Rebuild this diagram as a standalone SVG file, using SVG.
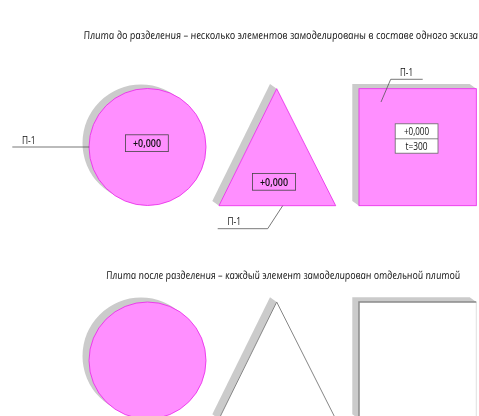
<svg xmlns="http://www.w3.org/2000/svg" width="479" height="416" viewBox="0 0 479 416">
<style>
.shadow{fill:#cbcbcb}
.slab{fill:#ff8fff;stroke:#e824e8;stroke-width:.8}
.empty{fill:#fff;stroke:#858585;stroke-width:1}
.edge{fill:none;stroke:#8a8a8a;stroke-width:1.5}
.faint{fill:none;stroke:#d8d8d8;stroke-width:.8}
.lead{fill:none;stroke:#555;stroke-width:.8}
.box{fill:none;stroke:#444;stroke-width:.8}
.boxw{fill:#fff;stroke:#666;stroke-width:.8}
text{font-family:"Open Sans","Liberation Sans",sans-serif;fill:#111;font-size:11px}
.title{font-style:italic;font-size:9.4px}
.mid{text-anchor:middle}
</style>
<defs><filter id="soft" x="-5%" y="-5%" width="110%" height="110%"><feGaussianBlur stdDeviation="0.35"/></filter></defs>
<rect width="479" height="416" fill="#fff"/>
<g filter="url(#soft)">
<g id="title-top"><text class="title" transform="translate(84 38.5) skewX(8) scale(1.012 1.17)">Плита до разделения – несколько элементов замоделированы в составе одного эскиза</text></g>
<g id="circle-top">
<circle class="shadow" cx="141" cy="143" r="58.5"/>
<circle class="slab" cx="147.5" cy="147" r="58.5"/>
<rect class="box" x="125.5" y="134.8" width="42.8" height="16.8"/>
<text class="mid" x="147" y="146.7" textLength="28" lengthAdjust="spacingAndGlyphs" font-weight="600">+0,000</text>
</g>
<g id="triangle-top">
<polygon class="shadow" points="270,84 212.3,201 219,205.7 276.7,88.7"/>
<polygon class="slab" points="276.7,88.7 335.7,205.7 219,205.7"/>
<rect class="box" x="252.4" y="173.4" width="43.2" height="16.8"/>
<text class="mid" x="274" y="185.7" textLength="28" lengthAdjust="spacingAndGlyphs" font-weight="600">+0,000</text>
</g>
<g id="square-top">
<polygon class="shadow" points="352.3,84 469.7,84 476.3,88.7 359,88.7 359,205.7 352.3,201"/>
<rect class="slab" x="359" y="88.7" width="117.3" height="117"/>
<rect class="boxw" x="395.2" y="123.8" width="42.8" height="29.4"/>
<line class="boxw" x1="395.2" y1="138.8" x2="438" y2="138.8"/>
<text class="mid" x="416.5" y="135.3" textLength="25" lengthAdjust="spacingAndGlyphs">+0,000</text>
<text class="mid" x="416.5" y="150" textLength="22" lengthAdjust="spacingAndGlyphs">t=300</text>
</g>
<g id="connectors">
<polyline class="lead" points="12.3,147 89.3,147"/>
<polyline class="lead" points="217.7,228.7 267.7,228.7 282.7,205.7"/>
<polyline class="lead" points="422.7,79.3 390.7,79.3 381,102"/>
</g>
<g id="label-left"><text x="22" y="144" textLength="13.5" lengthAdjust="spacingAndGlyphs">П-1</text></g>
<g id="label-triangle"><text x="227.5" y="225" textLength="13.5" lengthAdjust="spacingAndGlyphs">П-1</text></g>
<g id="label-square"><text x="400" y="76" textLength="13" lengthAdjust="spacingAndGlyphs">П-1</text></g>
<g id="title-bottom"><text class="title" transform="translate(106.5 279) skewX(8) scale(.993 1.17)">Плита после разделения – каждый элемент замоделирован отдельной плитой</text></g>
<g id="circle-bottom">
<circle class="shadow" cx="141" cy="356" r="58.5"/>
<circle class="slab" cx="147.5" cy="360.5" r="58.5"/>
</g>
<g id="triangle-bottom">
<polygon class="shadow" points="270,297.3 212.3,414.3 219,419 276.7,302"/>
<polygon class="empty" points="276.7,302 335.7,419 219,419"/>
</g>
<g id="square-bottom">
<polygon class="shadow" points="352.3,297.3 469.7,297.3 476.3,302 359,302 359,419 352.3,414.3"/>
<rect x="359" y="302" width="117.3" height="117" fill="#fff"/>
<line class="faint" x1="476.3" y1="302" x2="476.3" y2="419"/>
<polyline class="edge" points="359,419 359,302 476.3,302"/>
</g>
</g>
</svg>
